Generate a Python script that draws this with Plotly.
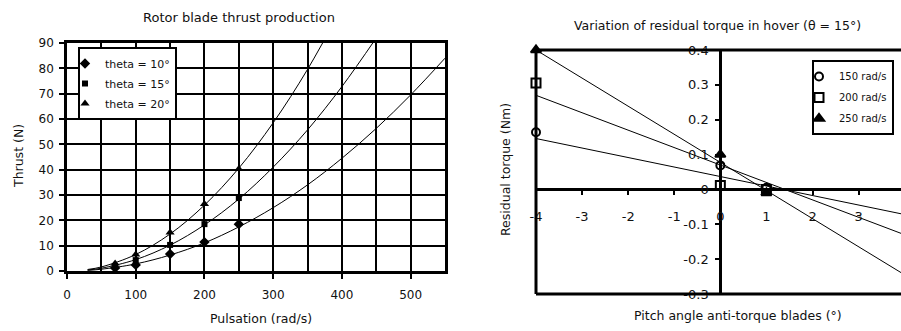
import plotly.graph_objects as go

W, H = 901, 331

# ---------------- Left chart data ----------------
legend_theta = ["theta = 10°", "theta = 15°", "theta = 20°"]
omega_pts = [70, 100, 150, 200, 250]
thrust_pts_10 = [1.2, 2.4, 6.7, 11.4, 18.5]
thrust_pts_15 = [2.0, 4.3, 10.3, 18.5, 28.8]
thrust_pts_20 = [3.0, 6.5, 15.2, 26.4, 40.3]

omega_curve_10 = [30, 50, 100, 150, 200, 250, 300, 350, 400, 450, 500, 550]
thrust_curve_10 = [0.25, 0.7, 2.8, 6.3, 11.1, 17.4, 25.0, 34.0, 44.5, 56.3, 69.5, 84.0]
omega_curve_15 = [30, 50, 100, 150, 200, 250, 300, 350, 400, 450]
thrust_curve_15 = [0.4, 1.1, 4.5, 10.2, 18.2, 28.4, 41.0, 55.7, 72.8, 92.0]
omega_curve_20 = [30, 50, 100, 150, 200, 250, 300, 350, 400]
thrust_curve_20 = [0.6, 1.6, 6.5, 14.6, 26.0, 40.6, 58.5, 79.6, 104.0]

x_ticks_left = [0, 100, 200, 300, 400, 500]
y_ticks_left = [0, 10, 20, 30, 40, 50, 60, 70, 80, 90]

# ---------------- Right chart data ----------------
legend_speed = ["150 rad/s", "200 rad/s", "250 rad/s"]
pitch_pts = [-4, 0, 1, 4]
torque_pts_150 = [0.164, 0.069, 0.005, -0.055]
torque_pts_200 = [0.305, 0.011, 0.0, -0.125]
torque_pts_250 = [0.40, 0.10, -0.01, -0.245]

pitch_line = [-4, 4]
torque_line_150 = [0.146, -0.072]
torque_line_200 = [0.27, -0.13]
torque_line_250 = [0.40, -0.245]

x_ticks_right = [-4, -3, -2, -1, 0, 1, 2, 3, 4]
x_ticktext_right = ["-4", "-3", "-2", "-1", "0", "1", "2", "3", "4"]
y_ticks_right = [-0.3, -0.2, -0.1, 0, 0.1, 0.2, 0.3, 0.4]
y_ticktext_right = ["-0.3", "-0.2", "-0.1", "0", "0.1", "0.2", "0.3", "0.4"]

FONT = "DejaVu Sans"
INK = "#111111"


def px(xp):
    return xp / W


def py(yp):
    return 1 - yp / H


fig = go.Figure()

# Left chart lines
for xs, ys in [(omega_curve_10, thrust_curve_10), (omega_curve_15, thrust_curve_15),
               (omega_curve_20, thrust_curve_20)]:
    fig.add_trace(go.Scatter(x=xs, y=ys, mode="lines", line=dict(color="black", width=1, shape="spline"),
                             showlegend=False, hoverinfo="skip", xaxis="x", yaxis="y"))
for name, ys, sym, size in [(legend_theta[0], thrust_pts_10, "diamond", 8),
                            (legend_theta[1], thrust_pts_15, "square", 6),
                            (legend_theta[2], thrust_pts_20, "triangle-up", 8)]:
    fig.add_trace(go.Scatter(x=omega_pts, y=ys, mode="markers", name=name,
                             marker=dict(symbol=sym, size=size, color="black"),
                             legend="legend", legendgroup=name, xaxis="x", yaxis="y"))

# Right chart lines
for ys in [torque_line_150, torque_line_200, torque_line_250]:
    fig.add_trace(go.Scatter(x=pitch_line, y=ys, mode="lines", line=dict(color="black", width=1),
                             showlegend=False, hoverinfo="skip", xaxis="x2", yaxis="y2"))
for name, ys, sym, size in [(legend_speed[0], torque_pts_150, "circle-open", 8),
                            (legend_speed[1], torque_pts_200, "square-open", 9),
                            (legend_speed[2], torque_pts_250, "triangle-up", 9)]:
    fig.add_trace(go.Scatter(x=pitch_pts, y=ys, mode="markers", name=name, cliponaxis=False,
                             marker=dict(symbol=sym, size=size, color="black", line=dict(width=2, color="black")),
                             legend="legend2", legendgroup=name, xaxis="x2", yaxis="y2"))

# Domains (pixels -> paper)
L_x0, L_x1, L_y0, L_y1 = 67, 445, 43, 271
R_x0, R_x1, R_y0, R_y1 = 536, 901, 50, 294
R_xr = [-4, 3.92]
R_yr = [-0.3, 0.4]

rx_dom = [px(R_x0), px(R_x1)]
ry_dom = [py(R_y1), py(R_y0)]
x_zero_paper = rx_dom[0] + (0 - R_xr[0]) / (R_xr[1] - R_xr[0]) * (rx_dom[1] - rx_dom[0])
y_zero_paper = ry_dom[0] + (0 - R_yr[0]) / (R_yr[1] - R_yr[0]) * (ry_dom[1] - ry_dom[0])

tickfont = dict(family=FONT, size=12, color=INK)

fig.update_layout(
    width=W, height=H, margin=dict(l=0, r=0, t=0, b=0, autoexpand=False),
    paper_bgcolor="white", plot_bgcolor="white",
    font=dict(family=FONT, color=INK),
    xaxis=dict(domain=[px(L_x0), px(L_x1)], range=[0, 550], tickvals=x_ticks_left,
               showgrid=True, gridcolor="black", gridwidth=1.5,
               minor=dict(dtick=50, tick0=0, showgrid=True, gridcolor="black", gridwidth=1.5),
               showline=True, linecolor="black", linewidth=2.5, mirror=True,
               ticks="outside", ticklen=5, tickwidth=2, tickcolor="black",
               tickfont=tickfont, zeroline=False, anchor="y", ticklabelstandoff=6),
    yaxis=dict(domain=[py(L_y1), py(L_y0)], range=[0, 90], tickvals=y_ticks_left,
               showgrid=True, gridcolor="black", gridwidth=1.5,
               showline=True, linecolor="black", linewidth=2.5, mirror=True,
               ticks="outside", ticklen=5, tickwidth=2, tickcolor="black",
               tickfont=tickfont, zeroline=False, anchor="x", ticklabelstandoff=3),
    xaxis2=dict(domain=rx_dom, range=R_xr, tickvals=x_ticks_right, ticktext=x_ticktext_right,
                showgrid=False, zeroline=False, anchor="free", position=y_zero_paper,
                showline=True, linecolor="black", linewidth=3,
                ticks="outside", ticklen=4, tickwidth=2, tickcolor="black",
                tickfont=dict(family=FONT, size=13, color=INK), ticklabelstandoff=10),
    yaxis2=dict(domain=ry_dom, range=R_yr, tickvals=y_ticks_right, ticktext=y_ticktext_right,
                showgrid=False, zeroline=False, anchor="free", position=x_zero_paper,
                showline=True, linecolor="black", linewidth=3,
                ticks="outside", ticklen=4, tickwidth=2, tickcolor="black",
                tickfont=dict(family=FONT, size=13, color=INK), ticklabelstandoff=4),
    legend=dict(x=px(78), y=py(47), xanchor="left", yanchor="top", bgcolor="white",
                bordercolor="black", borderwidth=2, font=dict(family=FONT, size=11, color=INK),
                tracegroupgap=1, itemwidth=30, indentation=-15),
    legend2=dict(x=px(812), y=py(60), xanchor="left", yanchor="top", bgcolor="white",
                 bordercolor="black", borderwidth=2, font=dict(family=FONT, size=10, color=INK),
                 tracegroupgap=2, itemwidth=30, indentation=-15),
)

# Right frame (top, bottom, left)
for x0, y0, x1, y1 in [(0, 1, 1, 1), (0, 0, 1, 0), (0, 0, 0, 1)]:
    fig.add_shape(type="line", xref="x2 domain", yref="y2 domain", x0=x0, y0=y0, x1=x1, y1=y1,
                  line=dict(color="black", width=3), layer="above")

annots = [
    ("Rotor blade thrust production", 239, 18, 0, 13),
    ("Pulsation (rad/s)", 261, 318, 0, 12.5),
    ("Thrust (N)", 18, 156, -90, 12.5),
    ("Variation of residual torque in hover (θ = 15°)", 717, 25, 0, 12.5),
    ("Pitch angle anti-torque blades (°)", 738, 315, 0, 12.5),
    ("Residual torque (Nm)", 505, 170, -90, 12.5),
]
for text, xp, yp, ang, size in annots:
    fig.add_annotation(text=text, x=px(xp), y=py(yp), xref="paper", yref="paper",
                       xanchor="center", yanchor="middle", showarrow=False, textangle=ang,
                       font=dict(family=FONT, size=size, color=INK))

fig.write_html("out.html")
